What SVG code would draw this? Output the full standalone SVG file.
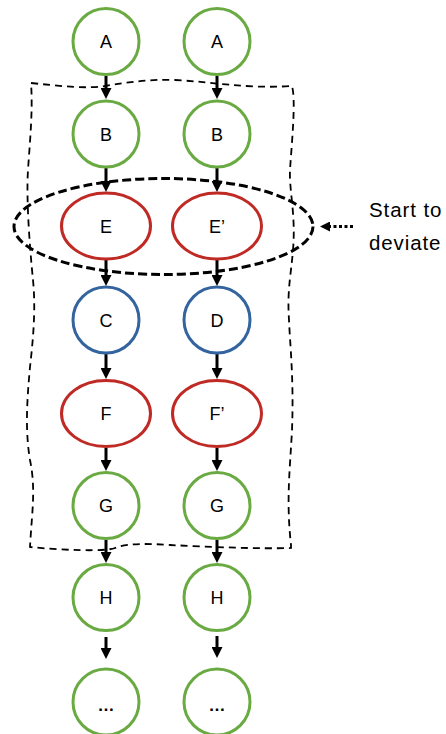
<svg xmlns="http://www.w3.org/2000/svg" width="446" height="734" viewBox="0 0 446 734">
<style>
  .g { fill: #fff; stroke: #6aaa42; stroke-width: 3; }
  .r { fill: #fff; stroke: #bf2a25; stroke-width: 3; }
  .b { fill: #fff; stroke: #33649f; stroke-width: 3; }
  .lbl { font-family: "Liberation Sans", Arial, sans-serif; font-size: 18px; fill: #000; text-anchor: middle; }
  .dots { font-weight: bold; font-size: 17px; }
  .edge { stroke: #000; stroke-width: 3; fill: none; marker-end: url(#ah); }
  .note { font-family: "Liberation Sans", Arial, sans-serif; font-size: 20.5px; fill: #000; letter-spacing: 0.9px; }
</style>
<defs>
  <marker id="ah" markerWidth="11" markerHeight="11" refX="3" refY="5.5" orient="auto" markerUnits="userSpaceOnUse">
    <path d="M0,0 L11,5.5 L0,11 Z" fill="#000"/>
  </marker>
  <marker id="ah2" markerWidth="10" markerHeight="10" refX="2" refY="5" orient="auto" markerUnits="userSpaceOnUse">
    <path d="M0,0 L10,5 L0,10 Z" fill="#000"/>
  </marker>
</defs>

<g id="region">
  <path d="M 31 83 C 60 86, 85 89, 105 86 C 130 82, 150 79, 175 80 C 215 82, 245 89, 292 86 C 296 100, 292 140, 290 170 C 289 190, 296 215, 293 250 C 291 275, 287 290, 289 320 C 290 345, 294 380, 292 430 C 290 470, 286 500, 291 545 L 291 548 C 260 549, 210 547, 170 545 C 140 543, 125 544, 115 548 C 105 552, 60 550, 30 547 C 32 510, 36 490, 30 460 C 25 430, 27 400, 30 367 C 33 340, 36 310, 33 280 C 30 250, 26 200, 28 170 C 30 140, 33 110, 31 83 Z" fill="none" stroke="#000" stroke-width="1.8" stroke-dasharray="7 5"/>
</g>

<g id="connectors">
  <line class="edge" x1="106" y1="76" x2="106" y2="91"/>
  <line class="edge" x1="217" y1="76" x2="217" y2="91"/>
  <line class="edge" x1="106" y1="168" x2="106" y2="184"/>
  <line class="edge" x1="217" y1="168" x2="217" y2="184"/>
  <line class="edge" x1="106" y1="260" x2="106" y2="278"/>
  <line class="edge" x1="217" y1="260" x2="217" y2="278"/>
  <line class="edge" x1="106" y1="354" x2="106" y2="371"/>
  <line class="edge" x1="217" y1="354" x2="217" y2="371"/>
  <line class="edge" x1="106" y1="448" x2="106" y2="463"/>
  <line class="edge" x1="217" y1="448" x2="217" y2="463"/>
  <line class="edge" x1="106" y1="540" x2="106" y2="555"/>
  <line class="edge" x1="217" y1="540" x2="217" y2="555"/>
  <line class="edge" x1="106" y1="637" x2="106" y2="651"/>
  <line class="edge" x1="217" y1="636" x2="217" y2="650"/>
  <line x1="353" y1="226.5" x2="328" y2="226.5" stroke="#000" stroke-width="3" stroke-dasharray="3 2.5" marker-end="url(#ah2)"/>
</g>

<g id="nodeA1"><circle class="g" cx="106" cy="41.5" r="33"/><text class="lbl" x="106" y="48">A</text></g>
<g id="nodeA2"><circle class="g" cx="217" cy="41.5" r="33"/><text class="lbl" x="217" y="48">A</text></g>
<g id="nodeB1"><circle class="g" cx="106" cy="134" r="33"/><text class="lbl" x="106" y="140.5">B</text></g>
<g id="nodeB2"><circle class="g" cx="217" cy="134" r="33"/><text class="lbl" x="217" y="140.5">B</text></g>
<g id="nodeE1"><ellipse class="r" cx="106" cy="226" rx="44.5" ry="33"/><text class="lbl" x="106" y="232.5">E</text></g>
<g id="nodeE2"><ellipse class="r" cx="217" cy="226" rx="44.5" ry="33"/><text class="lbl" x="217" y="232.5">E’</text></g>
<g id="nodeC"><circle class="b" cx="106" cy="320" r="33"/><text class="lbl" x="106" y="326.5">C</text></g>
<g id="nodeD"><circle class="b" cx="217" cy="320" r="33"/><text class="lbl" x="217" y="326.5">D</text></g>
<g id="nodeF1"><ellipse class="r" cx="106" cy="413.5" rx="44.5" ry="33"/><text class="lbl" x="106" y="420">F</text></g>
<g id="nodeF2"><ellipse class="r" cx="217" cy="413.5" rx="44.5" ry="33"/><text class="lbl" x="217" y="420">F’</text></g>
<g id="nodeG1"><circle class="g" cx="106" cy="505.5" r="33"/><text class="lbl" x="106" y="512">G</text></g>
<g id="nodeG2"><circle class="g" cx="217" cy="505.5" r="33"/><text class="lbl" x="217" y="512">G</text></g>
<g id="nodeH1"><circle class="g" cx="106" cy="597.5" r="33"/><text class="lbl" x="106" y="604">H</text></g>
<g id="nodeH2"><circle class="g" cx="217" cy="597.5" r="33"/><text class="lbl" x="217" y="604">H</text></g>
<g id="nodeDots1"><circle class="g" cx="106" cy="702" r="33"/><text class="lbl dots" x="106" y="711">…</text></g>
<g id="nodeDots2"><circle class="g" cx="217" cy="702" r="33"/><text class="lbl dots" x="217" y="711">…</text></g>

<g id="deviation">
  <ellipse cx="163.5" cy="226.5" rx="149.5" ry="48" fill="none" stroke="#000" stroke-width="3" stroke-dasharray="9 4"/>
  <text class="note" x="369" y="217">Start to</text>
  <text class="note" x="369" y="250">deviate</text>
</g>
</svg>
